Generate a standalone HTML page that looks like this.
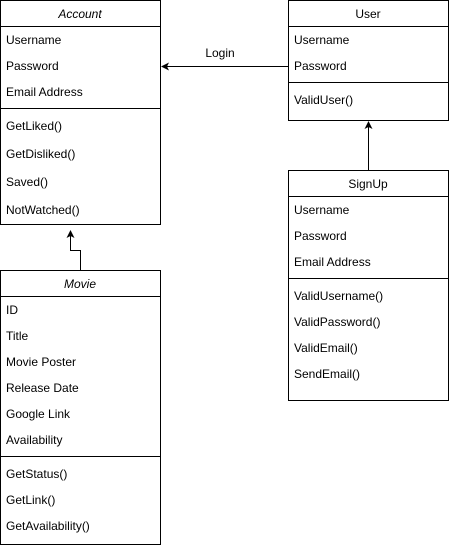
<!DOCTYPE html>
<html><head><style>html,body{margin:0;padding:0;background:#fff}svg{display:block}</style></head>
<body>
<svg width="449" height="548" xmlns="http://www.w3.org/2000/svg" font-family="Liberation Sans, Arial, sans-serif" font-size="12" fill="#000">
<g fill="none" stroke="#000" stroke-width="1">
<rect x="0.5" y="0.5" width="160" height="224"/>
<line x1="0.5" y1="26.5" x2="160.5" y2="26.5"/>
<line x1="0.5" y1="108.5" x2="160.5" y2="108.5"/>
<rect x="288.5" y="0.5" width="160" height="120"/>
<line x1="288.5" y1="26.5" x2="448.5" y2="26.5"/>
<line x1="288.5" y1="82.5" x2="448.5" y2="82.5"/>
<rect x="288.5" y="170.5" width="160" height="230"/>
<line x1="288.5" y1="196.5" x2="448.5" y2="196.5"/>
<line x1="288.5" y1="278.5" x2="448.5" y2="278.5"/>
<rect x="0.5" y="270.5" width="160" height="274"/>
<line x1="0.5" y1="296.5" x2="160.5" y2="296.5"/>
<line x1="0.5" y1="456.5" x2="160.5" y2="456.5"/>
<line x1="288" y1="66.5" x2="166" y2="66.5"/>
<line x1="368.5" y1="170" x2="368.5" y2="127"/>
<polyline points="80.5,270 80.5,250.5 70.5,250.5 70.5,232"/>
</g>
<polygon points="161,66.5 169,62.5 167,66.5 169,70.5"/>
<polygon points="368.5,121 364.5,129 368.5,127 372.5,129"/>
<polygon points="70.5,230 66.5,238 70.5,236 74.5,238"/>
<text x="220" y="57" text-anchor="middle">Login</text>
<g text-anchor="middle">
<text x="80" y="18" font-style="italic">Account</text>
<text x="368" y="18">User</text>
<text x="368" y="188">SignUp</text>
<text x="80" y="288" font-style="italic">Movie</text>
</g>
<g>
<text x="6" y="44">Username</text>
<text x="6" y="70">Password</text>
<text x="6" y="96">Email Address</text>
<text x="6" y="130">GetLiked()</text>
<text x="6" y="158">GetDisliked()</text>
<text x="6" y="186">Saved()</text>
<text x="6" y="214">NotWatched()</text>
<text x="294" y="44">Username</text>
<text x="294" y="70">Password</text>
<text x="294" y="104">ValidUser()</text>
<text x="294" y="214">Username</text>
<text x="294" y="240">Password</text>
<text x="294" y="266">Email Address</text>
<text x="294" y="300">ValidUsername()</text>
<text x="294" y="326">ValidPassword()</text>
<text x="294" y="352">ValidEmail()</text>
<text x="294" y="378">SendEmail()</text>
<text x="6" y="314">ID</text>
<text x="6" y="340">Title</text>
<text x="6" y="366">Movie Poster</text>
<text x="6" y="392">Release Date</text>
<text x="6" y="418">Google Link</text>
<text x="6" y="444">Availability</text>
<text x="6" y="478">GetStatus()</text>
<text x="6" y="504">GetLink()</text>
<text x="6" y="530">GetAvailability()</text>
</g>
</svg>
</body></html>
